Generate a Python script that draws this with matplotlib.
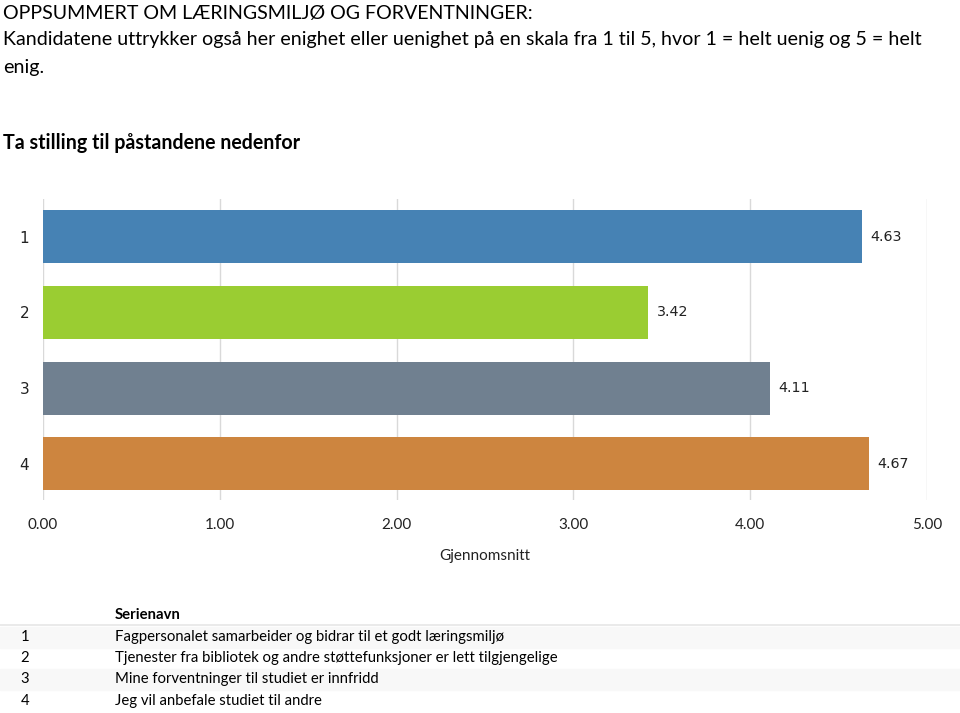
import matplotlib
matplotlib.use("Agg")
import matplotlib.pyplot as plt
from matplotlib.patches import Rectangle

categories = ["1", "2", "3", "4"]
values = [4.63, 3.42, 4.11, 4.67]
colors = ["#4682B4", "#9ACD32", "#708090", "#CD853F"]
xticks = [0, 1, 2, 3, 4, 5]
xticklabels = ["0.00", "1.00", "2.00", "3.00", "4.00", "5.00"]
series_names = [
    "Fagpersonalet samarbeider og bidrar til et godt læringsmiljø",
    "Tjenester fra bibliotek og andre støttefunksjoner er lett tilgjengelige",
    "Mine forventninger til studiet er innfridd",
    "Jeg vil anbefale studiet til andre",
]
title1 = "OPPSUMMERT OM LÆRINGSMILJØ OG FORVENTNINGER:"
title2 = "Kandidatene uttrykker også her enighet eller uenighet på en skala fra 1 til 5, hvor 1 = helt uenig og 5 = helt"
title3 = "enig."
subtitle = "Ta stilling til påstandene nedenfor"
xlabel = "Gjennomsnitt"
table_header = "Serienavn"

W, H = 960, 713
fig = plt.figure(figsize=(W / 100, H / 100), dpi=100)
CAL = ["Lato", "DejaVu Sans"]

def fx(px):
    return px / W

def fy(py):
    return 1 - py / H

# titles
fig.text(fx(3), fy(13), title1, fontsize=14.1, family=CAL, va="center", ha="left")
fig.text(fx(3), fy(40), title2, fontsize=14.1, family=CAL, va="center", ha="left")
fig.text(fx(3), fy(67), title3, fontsize=14.1, family=CAL, va="center", ha="left")
fig.text(fx(3), fy(143), subtitle, fontsize=14.1, family=CAL, weight="bold", va="center", ha="left")

# axes
ax_left, ax_right, ax_top, ax_bot = 43, 927, 199, 500
ax = fig.add_axes([fx(ax_left), fy(ax_bot), fx(ax_right - ax_left), (ax_bot - ax_top) / H])
ypos = list(range(len(categories)))
ax.barh(ypos, values, height=0.7, color=colors, zorder=3)
ax.set_xlim(0, 5)
ax.set_ylim(3.48, -0.5)
ax.set_xticks(xticks)
ax.set_xticklabels(xticklabels, family=CAL, fontsize=11)
ax.set_yticks(ypos)
ax.set_yticklabels(categories, family="DejaVu Sans", fontsize=11)
ax.tick_params(axis="both", length=0, colors="#222222")
ax.tick_params(axis="x", pad=13)
ax.tick_params(axis="y", pad=10)
ax.grid(axis="x", color="#d9d9d9", linewidth=1, zorder=0)
for s in ax.spines.values():
    s.set_visible(False)
for y, v in zip(ypos, values):
    ax.text(v + 0.05, y, f"{v:.2f}", va="center", ha="left", fontsize=10.3,
            family="DejaVu Sans", color="#222222")
ax.set_xlabel(xlabel, family=CAL, fontsize=11, labelpad=12, color="#222222")

# table
fig.text(fx(115), fy(615), table_header, fontsize=10.75, family=CAL, weight="bold", va="center", ha="left")
fig.add_artist(plt.Line2D([0, 1], [fy(625), fy(625)], color="#e6e6e6", linewidth=1.2))
row_y = [637, 658, 679, 701]
for i, (cat, name, ry) in enumerate(zip(categories, series_names, row_y)):
    if i % 2 == 0:
        fig.add_artist(Rectangle((0, fy(ry + 10.5)), 1, 21 / H, color="#f8f8f8", zorder=0,
                                 transform=fig.transFigure))
    fig.text(fx(25), fy(ry), cat, fontsize=10.75, family=CAL, va="center", ha="center")
    fig.text(fx(115), fy(ry), name, fontsize=10.75, family=CAL, va="center", ha="left")

fig.savefig("out.png", dpi=100)
